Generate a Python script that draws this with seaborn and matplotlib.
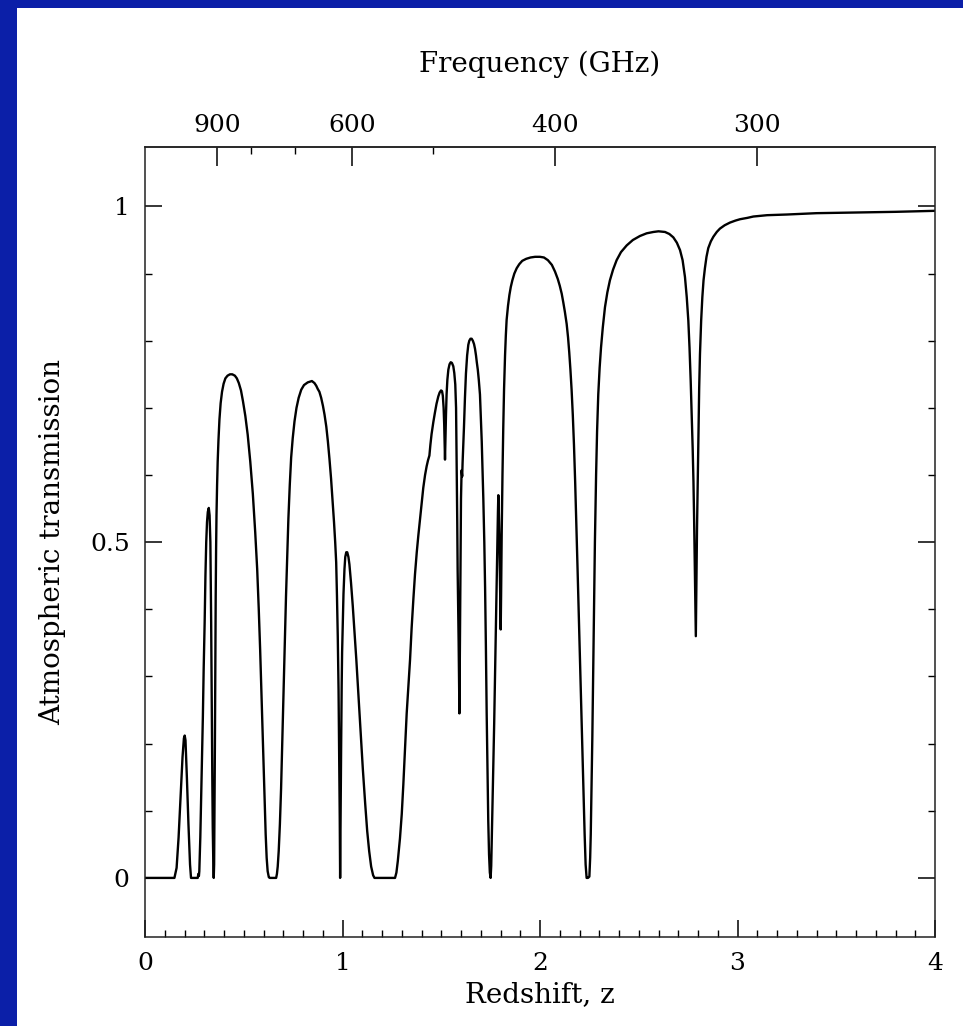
import numpy as np
import pandas as pd
import matplotlib
matplotlib.use("Agg")
import matplotlib.pyplot as plt
from matplotlib.patches import Rectangle
import seaborn as sns

# ---- data (redshift, transmission pairs) --------------------------------
redshift = [
    0.000, 0.149, 0.160, 0.170, 0.180, 0.190, 0.197, 0.201, 0.205, 0.212,
    0.220, 0.228, 0.233, 0.267, 0.270, 0.273, 0.275, 0.280, 0.285, 0.289,
    0.293, 0.297, 0.302, 0.306, 0.310, 0.314, 0.318, 0.323, 0.327, 0.331,
    0.335, 0.338, 0.341, 0.343, 0.346, 0.348, 0.350, 0.352, 0.354, 0.356,
    0.358, 0.360, 0.362, 0.365, 0.368, 0.372, 0.377, 0.383, 0.390, 0.398,
    0.407, 0.418, 0.430, 0.442, 0.455, 0.465, 0.475, 0.486, 0.496, 0.508,
    0.520, 0.533, 0.546, 0.558, 0.568, 0.576, 0.583, 0.590, 0.596, 0.601,
    0.606, 0.611, 0.616, 0.621, 0.627, 0.632, 0.664, 0.668, 0.672, 0.677,
    0.683, 0.689, 0.695, 0.701, 0.707, 0.714, 0.720, 0.726, 0.733, 0.740,
    0.748, 0.757, 0.767, 0.778, 0.791, 0.805, 0.824, 0.845, 0.858, 0.867,
    0.875, 0.883, 0.892, 0.901, 0.909, 0.918, 0.926, 0.934, 0.942, 0.950,
    0.957, 0.963, 0.968, 0.972, 0.976, 0.980, 0.983, 0.986, 0.988, 0.990,
    0.993, 0.996, 0.998, 1.002, 1.005, 1.010, 1.014, 1.019, 1.024, 1.030,
    1.035, 1.043, 1.052, 1.060, 1.070, 1.078, 1.090, 1.103, 1.115, 1.125,
    1.135, 1.145, 1.155, 1.162, 1.266, 1.273, 1.280, 1.291, 1.300, 1.308,
    1.316, 1.325, 1.334, 1.342, 1.350, 1.359, 1.367, 1.376, 1.384, 1.392,
    1.400, 1.409, 1.418, 1.426, 1.433, 1.440, 1.445, 1.451, 1.460, 1.468,
    1.476, 1.485, 1.492, 1.499, 1.504, 1.508, 1.512, 1.515, 1.517, 1.519,
    1.521, 1.524, 1.527, 1.531, 1.536, 1.542, 1.548, 1.554, 1.561, 1.566,
    1.571, 1.575, 1.578, 1.581, 1.583, 1.586, 1.588, 1.590, 1.592, 1.594,
    1.596, 1.598, 1.600, 1.603, 1.606, 1.608, 1.611, 1.615, 1.620, 1.625,
    1.631, 1.637, 1.642, 1.648, 1.654, 1.660, 1.666, 1.671, 1.676, 1.680,
    1.685, 1.690, 1.696, 1.700, 1.705, 1.709, 1.713, 1.718, 1.722, 1.726,
    1.730, 1.734, 1.738, 1.742, 1.746, 1.750, 1.753, 1.756, 1.760, 1.764,
    1.768, 1.772, 1.777, 1.781, 1.785, 1.787, 1.789, 1.791, 1.794, 1.797,
    1.799, 1.801, 1.803, 1.806, 1.810, 1.814, 1.818, 1.823, 1.827, 1.831,
    1.838, 1.845, 1.852, 1.860, 1.870, 1.882, 1.895, 1.910, 1.930, 1.952,
    1.975, 2.000, 2.020, 2.040, 2.060, 2.076, 2.090, 2.100, 2.110, 2.118,
    2.126, 2.135, 2.142, 2.148, 2.154, 2.160, 2.166, 2.172, 2.178, 2.184,
    2.190, 2.196, 2.202, 2.208, 2.214, 2.220, 2.226, 2.231, 2.236, 2.243,
    2.250, 2.254, 2.257, 2.261, 2.265, 2.269, 2.273, 2.278, 2.284, 2.289,
    2.295, 2.302, 2.309, 2.318, 2.329, 2.341, 2.354, 2.370, 2.388, 2.410,
    2.439, 2.470, 2.506, 2.540, 2.574, 2.600, 2.633, 2.655, 2.675, 2.693,
    2.709, 2.722, 2.734, 2.743, 2.751, 2.757, 2.763, 2.768, 2.773, 2.777,
    2.780, 2.783, 2.786, 2.789, 2.792, 2.795, 2.799, 2.802, 2.806, 2.810,
    2.816, 2.822, 2.828, 2.835, 2.843, 2.852, 2.865, 2.878, 2.895, 2.911,
    2.935, 2.962, 2.990, 3.013, 3.050, 3.080, 3.150, 3.250, 3.400, 3.590,
    3.800, 4.000,
]
transmission = [
    0.000, 0.000, 0.015, 0.060, 0.120, 0.180, 0.208, 0.212, 0.205, 0.150,
    0.080, 0.020, 0.000, 0.000, 0.006, 0.003, 0.010, 0.060, 0.130, 0.180,
    0.240, 0.310, 0.380, 0.450, 0.500, 0.530, 0.545, 0.551, 0.540, 0.500,
    0.380, 0.250, 0.140, 0.075, 0.020, 0.000, 0.020, 0.100, 0.200, 0.320,
    0.420, 0.490, 0.540, 0.585, 0.620, 0.652, 0.683, 0.707, 0.724, 0.736,
    0.744, 0.748, 0.750, 0.750, 0.748, 0.744, 0.737, 0.726, 0.710, 0.688,
    0.660, 0.620, 0.572, 0.515, 0.460, 0.400, 0.340, 0.270, 0.210, 0.162,
    0.110, 0.065, 0.030, 0.010, 0.001, 0.000, 0.000, 0.006, 0.017, 0.040,
    0.080, 0.133, 0.200, 0.270, 0.340, 0.420, 0.480, 0.535, 0.585, 0.626,
    0.655, 0.680, 0.700, 0.715, 0.727, 0.734, 0.738, 0.740, 0.737, 0.733,
    0.728, 0.724, 0.715, 0.703, 0.690, 0.672, 0.650, 0.624, 0.595, 0.560,
    0.530, 0.500, 0.470, 0.420, 0.360, 0.280, 0.190, 0.090, 0.000, 0.080,
    0.191, 0.290, 0.336, 0.390, 0.423, 0.460, 0.478, 0.485, 0.485, 0.478,
    0.467, 0.440, 0.405, 0.370, 0.325, 0.285, 0.225, 0.162, 0.110, 0.070,
    0.040, 0.017, 0.004, 0.000, 0.000, 0.008, 0.025, 0.059, 0.095, 0.139,
    0.190, 0.245, 0.288, 0.325, 0.372, 0.416, 0.452, 0.485, 0.510, 0.533,
    0.557, 0.581, 0.600, 0.613, 0.622, 0.629, 0.645, 0.661, 0.679, 0.693,
    0.706, 0.717, 0.723, 0.726, 0.725, 0.718, 0.700, 0.675, 0.645, 0.623,
    0.650, 0.690, 0.720, 0.742, 0.757, 0.765, 0.768, 0.767, 0.762, 0.752,
    0.735, 0.700, 0.618, 0.530, 0.458, 0.400, 0.352, 0.290, 0.245, 0.330,
    0.405, 0.500, 0.565, 0.607, 0.598, 0.618, 0.640, 0.671, 0.715, 0.751,
    0.778, 0.794, 0.800, 0.803, 0.803, 0.800, 0.795, 0.788, 0.778, 0.768,
    0.757, 0.742, 0.720, 0.690, 0.650, 0.610, 0.565, 0.500, 0.432, 0.345,
    0.245, 0.160, 0.085, 0.035, 0.008, 0.000, 0.018, 0.060, 0.120, 0.165,
    0.230, 0.298, 0.390, 0.458, 0.520, 0.545, 0.570, 0.552, 0.511, 0.455,
    0.410, 0.370, 0.420, 0.511, 0.600, 0.671, 0.728, 0.778, 0.808, 0.831,
    0.852, 0.868, 0.880, 0.890, 0.900, 0.908, 0.914, 0.919, 0.922, 0.924,
    0.925, 0.925, 0.924, 0.920, 0.913, 0.903, 0.892, 0.882, 0.870, 0.857,
    0.843, 0.825, 0.805, 0.783, 0.757, 0.727, 0.690, 0.645, 0.590, 0.528,
    0.462, 0.395, 0.328, 0.262, 0.195, 0.130, 0.065, 0.020, 0.000, 0.000,
    0.002, 0.030, 0.065, 0.135, 0.210, 0.300, 0.400, 0.500, 0.600, 0.665,
    0.720, 0.760, 0.790, 0.820, 0.850, 0.872, 0.890, 0.906, 0.920, 0.932,
    0.942, 0.950, 0.956, 0.960, 0.962, 0.963, 0.962, 0.959, 0.954, 0.946,
    0.935, 0.920, 0.895, 0.865, 0.830, 0.790, 0.740, 0.690, 0.640, 0.590,
    0.540, 0.480, 0.420, 0.360, 0.440, 0.520, 0.600, 0.660, 0.730, 0.780,
    0.830, 0.865, 0.890, 0.908, 0.925, 0.938, 0.948, 0.955, 0.962, 0.967,
    0.972, 0.976, 0.979, 0.981, 0.983, 0.985, 0.987, 0.988, 0.990, 0.991,
    0.992, 0.9935,
]

x_major = [0, 1, 2, 3, 4]
x_minor_step = 0.1
y_major = [0, 0.5, 1]
y_major_labels = ["0", "0.5", "1"]
y_minor_step = 0.1
rest_freq_ghz = 1230.0
freq_major = [900, 600, 400, 300]
freq_minor = [800, 700, 500]

x_label = "Redshift, z"
y_label = "Atmospheric transmission"
top_label = "Frequency (GHz)"

# ---- style ------------------------------------------------------------------
sns.set_style("ticks")
plt.rcParams["font.family"] = ["DejaVu Serif"]
plt.rcParams["text.color"] = "black"
plt.rcParams["axes.labelcolor"] = "black"
FS_TICK = 18
FS_LABEL = 20
BLUE = "#0b1fa8"

W, H = 963, 1026
fig = plt.figure(figsize=(W / 100, H / 100), dpi=100)
fig.patch.set_facecolor(BLUE)
bg = Rectangle((17 / W, 0), 1 - 17 / W, 1 - 8 / H,
               transform=fig.transFigure, facecolor="white",
               edgecolor="none", zorder=-10)
fig.patches.append(bg)

ax = fig.add_axes([145 / W, 89 / H, 790 / W, 790.3 / H])
ax.set_zorder(5)
ax.set_facecolor("white")

df = pd.DataFrame({"z": redshift, "T": transmission})
sns.lineplot(data=df, x="z", y="T", ax=ax, color="black", lw=1.7,
             estimator=None, sort=False)

ax.set_xlim(0, 4)
ax.set_ylim(-0.088, 1.089)
ax.set_xticks(x_major)
ax.set_xticks(np.arange(0, 4.0001, x_minor_step), minor=True)
ax.set_yticks(y_major)
ax.set_yticklabels(y_major_labels)
ax.set_yticks(np.arange(0, 1.0001, y_minor_step), minor=True)

ax.tick_params(which="both", direction="in", top=False, right=True,
               colors="black", labelsize=FS_TICK)
ax.tick_params(which="major", length=12, width=1.1, pad=11)
ax.tick_params(which="minor", length=5, width=1.0)
for s in ax.spines.values():
    s.set_color("#222222")
    s.set_linewidth(1.1)

ax.set_xlabel(x_label, fontsize=FS_LABEL, labelpad=4, color="black")
ax.set_ylabel(y_label, fontsize=FS_LABEL, labelpad=17, color="black")


def z_to_f(z):
    z = np.asarray(z, dtype=float)
    with np.errstate(divide="ignore", invalid="ignore"):
        return rest_freq_ghz / (1.0 + z)


def f_to_z(f):
    f = np.asarray(f, dtype=float)
    with np.errstate(divide="ignore", invalid="ignore"):
        return rest_freq_ghz / f - 1.0


sec = ax.secondary_xaxis("top", functions=(z_to_f, f_to_z))
sec.set_xticks(freq_major)
sec.set_xticks(freq_minor, minor=True)
sec.tick_params(which="both", direction="in", labelsize=FS_TICK, colors="black")
sec.tick_params(which="major", length=14, width=1.1, pad=7)
sec.tick_params(which="minor", length=5, width=1.0)
sec.spines["top"].set_color("#222222")
sec.spines["top"].set_linewidth(1.1)
sec.set_xlabel(top_label, fontsize=FS_LABEL, labelpad=30, color="black")

fig.savefig("out.png", dpi=100, facecolor=BLUE)
